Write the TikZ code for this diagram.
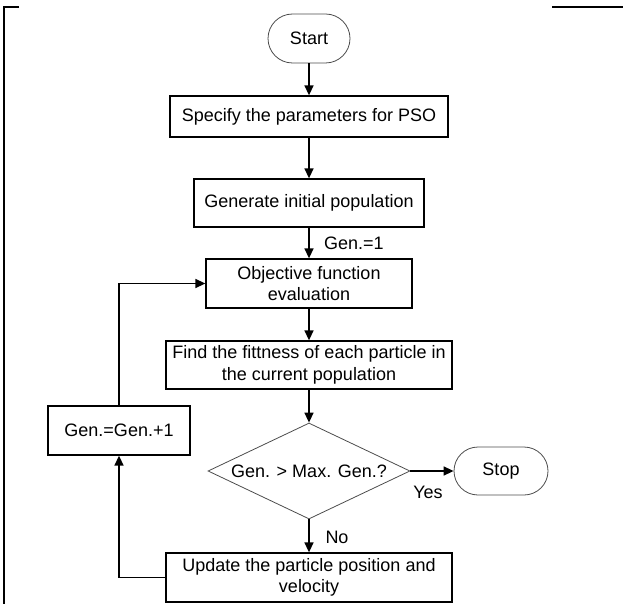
\documentclass[tikz,border=0pt]{standalone}
\usepackage{fontspec}
\setmainfont{Liberation Sans}
\usetikzlibrary{arrows.meta,shapes.geometric,shapes.misc}
\begin{document}
\begin{tikzpicture}[x=1pt,y=-1pt,
  every node/.style={font=\fontsize{18}{21.5}\selectfont, inner sep=0pt, text=black},
  procbox/.style={draw=black, line width=1.3pt, align=center},
  termbox/.style={draw=black!70, line width=0.8pt, rounded rectangle},
  decision/.style={draw=black!70, line width=0.8pt, diamond, shape aspect=2.104},
  arr/.style={draw=black, line width=1.5pt, -{Triangle[length=10pt,width=9pt]}},
  frameline/.style={draw=black, line width=2pt}
]
\useasboundingbox (0,0) rectangle (623,604);

\node[termbox, minimum width=82pt, minimum height=49pt] (start) at (309,38.5) {Start};
\node[procbox, minimum width=278pt, minimum height=41pt] (spec) at (309,116.5) {Specify the parameters for PSO};
\node[procbox, minimum width=230pt, minimum height=48pt] (genpop) at (309,203) {Generate initial population};
\node[procbox, minimum width=206pt, minimum height=49pt] (obj) at (309,283.5) {Objective function\\evaluation};
\node[procbox, minimum width=286pt, minimum height=48pt] (fit) at (309,365) {Find the fittness of each particle in\\the current population};
\node[decision, minimum width=202pt, minimum height=96pt] (dec) at (309,471) {Gen. > Max. Gen.?};
\node[termbox, minimum width=94pt, minimum height=48pt] (stop) at (501,471) {Stop};
\node[procbox, minimum width=286pt, minimum height=49pt] (upd) at (309,577.5) {Update the particle position and\\velocity};
\node[procbox, minimum width=142pt, minimum height=49pt] (inc) at (119,430.5) {Gen.=Gen.+1};

\node[anchor=west] (g1) at (324,243) {Gen.=1};
\node (yes) at (428,492) {Yes};
\node (no) at (337,537) {No};

\draw[arr] (start.south) -- (spec.north);
\draw[arr] (spec.south) -- (genpop.north);
\draw[arr] (genpop.south) -- (obj.north);
\draw[arr] (obj.south) -- (fit.north);
\draw[arr] (fit.south) -- (dec.north);
\draw[arr] (dec.east) -- (stop.west);
\draw[arr] (dec.south) -- (upd.north);
\draw[arr] (upd.west) -| (inc.south);
\draw[arr] (inc.north) |- (obj.west);

\coordinate (fa) at (19,7);
\coordinate (fb) at (4,7);
\coordinate (fc) at (4,604);
\coordinate (fd) at (552,7);
\coordinate (fe) at (623,7);
\draw[frameline] (fa) -- (fb) -- (fc);
\draw[frameline] (fd) -- (fe);
\end{tikzpicture}
\end{document}
